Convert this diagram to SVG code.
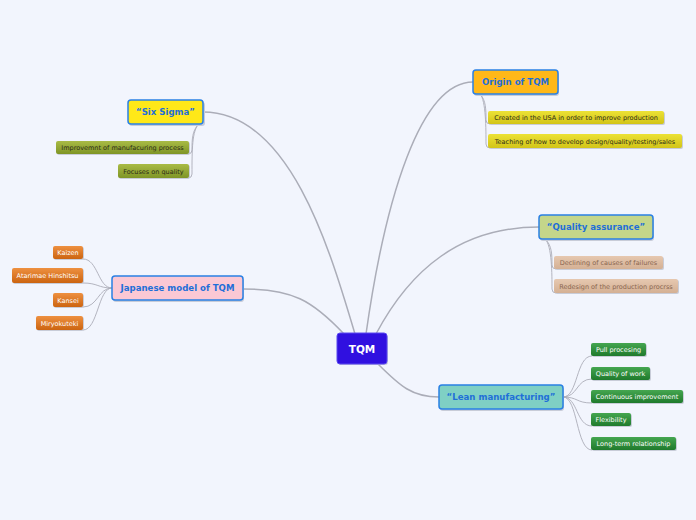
<svg xmlns="http://www.w3.org/2000/svg" width="696" height="520" viewBox="0 0 696 520">
<defs>
<linearGradient id="gOlive" x1="0" y1="0" x2="0" y2="1"><stop offset="0" stop-color="#a9bb45"/><stop offset="1" stop-color="#7f9526"/></linearGradient>
<linearGradient id="gOrange" x1="0" y1="0" x2="0" y2="1"><stop offset="0" stop-color="#ee9040"/><stop offset="1" stop-color="#cc6410"/></linearGradient>
<linearGradient id="gYellow" x1="0" y1="0" x2="0" y2="1"><stop offset="0" stop-color="#ece236"/><stop offset="1" stop-color="#d2c418"/></linearGradient>
<linearGradient id="gTan" x1="0" y1="0" x2="0" y2="1"><stop offset="0" stop-color="#e6c8b0"/><stop offset="1" stop-color="#d4b094"/></linearGradient>
<linearGradient id="gGreen" x1="0" y1="0" x2="0" y2="1"><stop offset="0" stop-color="#45a650"/><stop offset="1" stop-color="#1f7a2c"/></linearGradient>
</defs>
<style>
.main{stroke:#2a80e4;stroke-width:1.5}
.mt{font-family:"DejaVu Sans",Verdana,sans-serif;font-weight:bold;font-size:8.6px;fill:#1f6fd8;text-anchor:middle}
.ct{font-family:"DejaVu Sans",Verdana,sans-serif;font-size:6.5px;text-anchor:middle}
.lt{fill:#ffffff}
.dk{fill:#2c2c18}
.br{fill:#8a6650}
.conn path{fill:none;stroke:#abadb8}
.c1{stroke-width:1.5}
.c2{stroke-width:0.9}
.sh{fill:#c8ccd8}
</style>
<rect width="696" height="520" fill="#f2f5fd"/>
<g class="conn">
<path class="c1" d="M203,112 C290,112 330,250 355,334"/>
<path class="c1" d="M243,289 C292,289 312,300 344,334"/>
<path class="c1" d="M473,82 C420,82 385,200 366,334"/>
<path class="c1" d="M539,227 C460,227 410,270 376,334"/>
<path class="c1" d="M378,364 C400,386 412,397 439,397"/>
<path class="c2" d="M199,124 C192,130 192,140 192,150 Q192,154 188,154"/>
<path class="c2" d="M199,124 C192,130 192,150 192,174 Q192,178 188,178"/>
<path class="c2" d="M480,94 C486,100 486,110 486,120 Q486,124 490,124"/>
<path class="c2" d="M480,94 C486,100 486,130 486,144 Q486,148 490,148"/>
<path class="c2" d="M545,239 C552,245 552,255 552,265 Q552,269 556,269"/>
<path class="c2" d="M545,239 C552,245 552,275 552,289 Q552,293 556,293"/>
<path class="c2" d="M112,288 C98,288 98,259 83,259"/>
<path class="c2" d="M112,288 C98,288 98,283 83,283"/>
<path class="c2" d="M112,288 C98,288 98,307 83,307"/>
<path class="c2" d="M112,288 C98,288 98,330 83,330"/>
<path class="c2" d="M563,397 C578,397 576,356 592,356"/>
<path class="c2" d="M563,397 C578,397 576,379 592,379"/>
<path class="c2" d="M563,397 C578,397 576,403 592,403"/>
<path class="c2" d="M563,397 C578,397 576,426 592,426"/>
<path class="c2" d="M563,397 C578,397 576,450 592,450"/>
</g>
<g id="tqm">
<rect x="338" y="335" width="50" height="30" rx="3" class="sh"/>
<rect x="337" y="333" width="50" height="31" rx="3" fill="#3010e0" stroke="#5a48f0" stroke-width="1"/>
<text x="362" y="352.5" font-family="DejaVu Sans,Verdana,sans-serif" font-weight="bold" font-size="10.5" fill="#ffffff" text-anchor="middle">TQM</text>
</g>
<g id="six-sigma">
<rect x="129" y="102" width="76" height="24" rx="3" class="sh"/>
<rect x="128" y="100" width="75" height="24" rx="3" fill="#ffe818" class="main"/>
<text x="165.5" y="115" class="mt">“Six Sigma”</text>
</g>
<g id="improvemnt">
<rect x="57" y="142" width="133" height="13" rx="2" class="sh"/>
<rect x="56" y="141" width="133" height="13" rx="2" fill="url(#gOlive)"/>
<text x="122.5" y="150" class="ct dk">Improvemnt of manufacuring process</text>
</g>
<g id="focuses">
<rect x="119" y="165" width="71" height="14" rx="2" class="sh"/>
<rect x="118" y="164" width="71" height="14" rx="2" fill="url(#gOlive)"/>
<text x="153.5" y="173.5" class="ct dk">Focuses on quality</text>
</g>
<g id="japanese">
<rect x="113" y="278" width="131" height="24" rx="3" class="sh"/>
<rect x="112" y="276" width="131" height="24" rx="3" fill="#fbc8d4" class="main"/>
<text x="177.5" y="291" class="mt">Japanese model of TQM</text>
</g>
<g id="kaizen">
<rect x="54" y="247" width="30" height="13" rx="2" class="sh"/>
<rect x="53" y="246" width="30" height="13" rx="2" fill="url(#gOrange)"/>
<text x="68" y="255" class="ct lt">Kaizen</text>
</g>
<g id="atarimae">
<rect x="13" y="269" width="71" height="15" rx="2" class="sh"/>
<rect x="12" y="268" width="71" height="15" rx="2" fill="url(#gOrange)"/>
<text x="47.5" y="278" class="ct lt">Atarimae Hinshitsu</text>
</g>
<g id="kansei">
<rect x="54" y="294" width="30" height="14" rx="2" class="sh"/>
<rect x="53" y="293" width="30" height="14" rx="2" fill="url(#gOrange)"/>
<text x="68" y="302.5" class="ct lt">Kansei</text>
</g>
<g id="miryokuteki">
<rect x="37" y="317" width="47" height="14" rx="2" class="sh"/>
<rect x="36" y="316" width="47" height="14" rx="2" fill="url(#gOrange)"/>
<text x="59.5" y="325.5" class="ct lt">Miryokuteki</text>
</g>
<g id="origin">
<rect x="474" y="72" width="85" height="24" rx="3" class="sh"/>
<rect x="473" y="70" width="85" height="24" rx="3" fill="#ffb818" class="main"/>
<text x="515.5" y="85" class="mt">Origin of TQM</text>
</g>
<g id="created">
<rect x="489" y="112" width="176" height="13" rx="2" class="sh"/>
<rect x="488" y="111" width="176" height="13" rx="2" fill="url(#gYellow)"/>
<text x="576" y="120" class="ct dk">Created in the USA in order to improve production</text>
</g>
<g id="teaching">
<rect x="489" y="135" width="194" height="14" rx="2" class="sh"/>
<rect x="488" y="134" width="194" height="14" rx="2" fill="url(#gYellow)"/>
<text x="585" y="143.5" class="ct dk">Teaching of how to develop design/quality/testing/sales</text>
</g>
<g id="quality-assurance">
<rect x="540" y="217" width="114" height="24" rx="3" class="sh"/>
<rect x="539" y="215" width="114" height="24" rx="3" fill="#c4d68a" class="main"/>
<text x="596" y="230" class="mt">“Quality assurance”</text>
</g>
<g id="declining">
<rect x="555" y="257" width="109" height="13" rx="2" class="sh"/>
<rect x="554" y="256" width="109" height="13" rx="2" fill="url(#gTan)"/>
<text x="608.5" y="265" class="ct br">Declining of causes of failures</text>
</g>
<g id="redesign">
<rect x="555" y="280" width="124" height="14" rx="2" class="sh"/>
<rect x="554" y="279" width="124" height="14" rx="2" fill="url(#gTan)"/>
<text x="616" y="288.5" class="ct br">Redesign of the production procrss</text>
</g>
<g id="lean">
<rect x="440" y="387" width="124" height="24" rx="3" class="sh"/>
<rect x="439" y="385" width="124" height="24" rx="3" fill="#7fd0c4" class="main"/>
<text x="501" y="400" class="mt">“Lean manufacturing”</text>
</g>
<g id="pull">
<rect x="592" y="344" width="55" height="13" rx="2" class="sh"/>
<rect x="591" y="343" width="55" height="13" rx="2" fill="url(#gGreen)"/>
<text x="618.5" y="352" class="ct lt">Pull procesing</text>
</g>
<g id="quality-work">
<rect x="592" y="368" width="59" height="13" rx="2" class="sh"/>
<rect x="591" y="367" width="59" height="13" rx="2" fill="url(#gGreen)"/>
<text x="620.5" y="376" class="ct lt">Quality of work</text>
</g>
<g id="continuous">
<rect x="592" y="391" width="92" height="13" rx="2" class="sh"/>
<rect x="591" y="390" width="92" height="13" rx="2" fill="url(#gGreen)"/>
<text x="637" y="399" class="ct lt">Continuous improvement</text>
</g>
<g id="flexibility">
<rect x="592" y="414" width="40" height="13" rx="2" class="sh"/>
<rect x="591" y="413" width="40" height="13" rx="2" fill="url(#gGreen)"/>
<text x="611" y="422" class="ct lt">Flexibility</text>
</g>
<g id="long-term">
<rect x="592" y="438" width="85" height="13" rx="2" class="sh"/>
<rect x="591" y="437" width="85" height="13" rx="2" fill="url(#gGreen)"/>
<text x="633.5" y="446" class="ct lt">Long-term relationship</text>
</g>
</svg>
